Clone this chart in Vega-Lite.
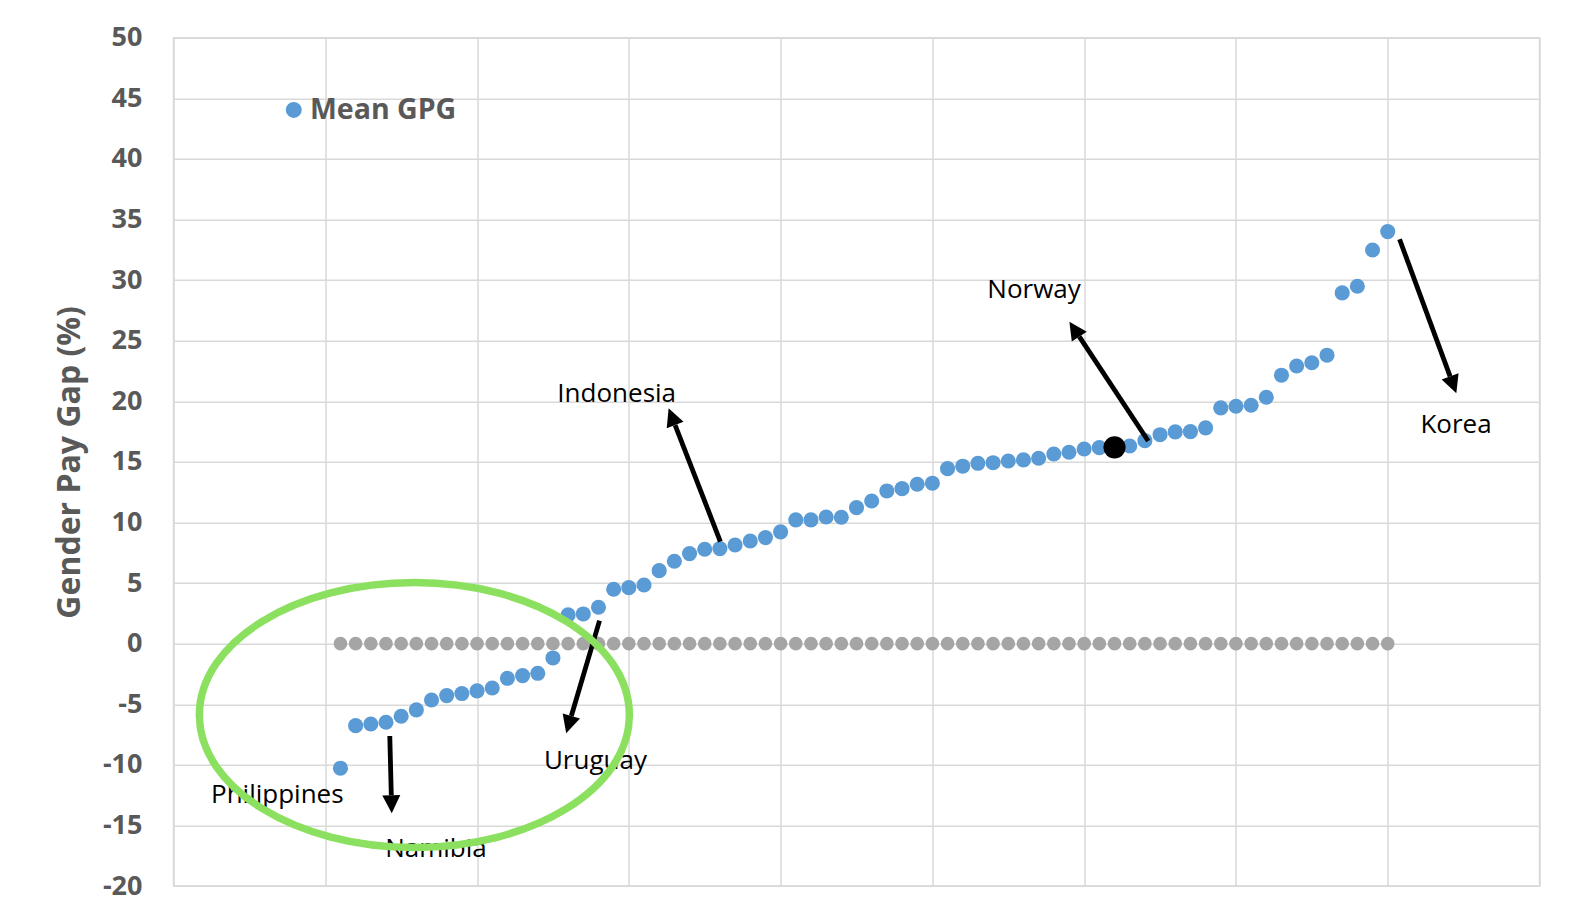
{
  "$schema": "https://vega.github.io/schema/vega-lite/v6.json",
  "autosize": "none",
  "width": 1366,
  "height": 848.3,
  "padding": {"left": 173.5, "top": 37.7, "right": 36.5, "bottom": 27},
  "background": "white",
  "config": {
    "font": "Open Sans",
    "view": {"stroke": "#D9D9D9", "strokeWidth": 1.5},
    "axis": {"gridColor": "#D9D9D9", "gridWidth": 1.5, "domain": false, "ticks": false}
  },
  "datasets": {
    "gpg": [
      {"x": 11, "y": -10.28}, {"x": 12, "y": -6.77}, {"x": 13, "y": -6.63}, {"x": 14, "y": -6.49},
      {"x": 15, "y": -5.99}, {"x": 16, "y": -5.47}, {"x": 17, "y": -4.65}, {"x": 18, "y": -4.29},
      {"x": 19, "y": -4.12}, {"x": 20, "y": -3.90}, {"x": 21, "y": -3.66}, {"x": 22, "y": -2.86},
      {"x": 23, "y": -2.64}, {"x": 24, "y": -2.45}, {"x": 25, "y": -1.18}, {"x": 26, "y": 2.37},
      {"x": 27, "y": 2.45}, {"x": 28, "y": 3.00}, {"x": 29, "y": 4.49}, {"x": 30, "y": 4.62},
      {"x": 31, "y": 4.84}, {"x": 32, "y": 6.02}, {"x": 33, "y": 6.80}, {"x": 34, "y": 7.43},
      {"x": 35, "y": 7.79}, {"x": 36, "y": 7.84}, {"x": 37, "y": 8.14}, {"x": 38, "y": 8.47},
      {"x": 39, "y": 8.75}, {"x": 40, "y": 9.22}, {"x": 41, "y": 10.21}, {"x": 42, "y": 10.21},
      {"x": 43, "y": 10.45}, {"x": 44, "y": 10.43}, {"x": 45, "y": 11.22}, {"x": 46, "y": 11.77},
      {"x": 47, "y": 12.60}, {"x": 48, "y": 12.79}, {"x": 49, "y": 13.15}, {"x": 50, "y": 13.24},
      {"x": 51, "y": 14.44}, {"x": 52, "y": 14.64}, {"x": 53, "y": 14.88}, {"x": 54, "y": 14.93},
      {"x": 55, "y": 15.07}, {"x": 56, "y": 15.16}, {"x": 57, "y": 15.30}, {"x": 58, "y": 15.65},
      {"x": 59, "y": 15.79}, {"x": 60, "y": 16.06}, {"x": 61, "y": 16.17}, {"x": 62, "y": 16.20},
      {"x": 63, "y": 16.31}, {"x": 64, "y": 16.75}, {"x": 65, "y": 17.24}, {"x": 66, "y": 17.47},
      {"x": 67, "y": 17.49}, {"x": 68, "y": 17.80}, {"x": 69, "y": 19.45}, {"x": 70, "y": 19.59},
      {"x": 71, "y": 19.67}, {"x": 72, "y": 20.33}, {"x": 73, "y": 22.15}, {"x": 74, "y": 22.91},
      {"x": 75, "y": 23.18}, {"x": 76, "y": 23.80}, {"x": 77, "y": 28.94}, {"x": 78, "y": 29.49},
      {"x": 79, "y": 32.48}, {"x": 80, "y": 34.00}
    ],
    "labels": [
      {"label": "Indonesia", "x": 29.2, "y": 19.9},
      {"label": "Norway", "x": 56.7, "y": 28.5},
      {"label": "Korea", "x": 84.5, "y": 17.36},
      {"label": "Philippines", "x": 6.84, "y": -13.17},
      {"label": "Uruguay", "x": 27.8, "y": -10.34},
      {"label": "Namibia", "x": 17.29, "y": -17.57}
    ],
    "arrows": [
      {"x": 14.25, "y": -7.62, "x2": 14.35, "y2": -12.51},
      {"x": 28.07, "y": 1.90, "x2": 26.21, "y2": -5.97},
      {"x": 36.03, "y": 8.42, "x2": 33.05, "y2": 18.04},
      {"x": 64.22, "y": 16.72, "x2": 59.68, "y2": 25.33},
      {"x": 80.78, "y": 33.37, "x2": 84.11, "y2": 22.05}
    ],
    "highlight": [
      {"x": 15.87, "y": -5.89}
    ]
  },
  "encoding": {
    "x": {
      "field": "x", "type": "quantitative",
      "scale": {"domain": [0, 90], "nice": false, "zero": false},
      "axis": {"title": null, "values": [0, 10, 20, 30, 40, 50, 60, 70, 80, 90], "labels": false, "grid": true}
    },
    "y": {
      "field": "y", "type": "quantitative",
      "scale": {"domain": [-20, 50], "nice": false, "zero": false},
      "axis": {
        "title": "Gender Pay Gap (%)",
        "values": [-20, -15, -10, -5, 0, 5, 10, 15, 20, 25, 30, 35, 40, 45, 50],
        "labelExpr": "'' + datum.value",
        "labelFont": "Open Sans", "labelFontWeight": "bold", "labelFontSize": 27, "labelColor": "#595959",
        "labelPadding": 31.5, "labelFlush": false, "labelOverlap": false,
        "titleFont": "Open Sans", "titleFontWeight": "bold", "titleFontSize": 32, "titleColor": "#595959",
        "titlePadding": 16, "grid": true
      }
    }
  },
  "layer": [
    {
      "data": {"name": "gpg"},
      "mark": {"type": "point", "filled": true, "size": 185, "color": "#A5A5A5", "opacity": 1, "strokeWidth": 0},
      "encoding": {"y": {"datum": 0}}
    },
    {
      "data": {"name": "gpg"},
      "mark": {"type": "point", "filled": true, "size": 228, "opacity": 1, "strokeWidth": 0},
      "encoding": {
        "color": {
          "datum": "Mean GPG", "type": "nominal",
          "scale": {"domain": ["Mean GPG"], "range": ["#5B9BD5"]},
          "legend": {
            "title": null, "orient": "none", "legendX": 106, "legendY": 58, "padding": 0,
            "symbolType": "circle", "symbolSize": 254, "symbolOpacity": 1, "symbolStrokeWidth": 0,
            "labelFont": "Open Sans", "labelFontSize": 28.5, "labelFontWeight": "bold",
            "labelColor": "#595959", "labelOffset": 2
          }
        }
      }
    },
    {
      "data": {"name": "gpg"},
      "transform": [{"filter": "datum.x === 62"}],
      "mark": {"type": "point", "filled": true, "size": 490, "color": "black", "opacity": 1, "strokeWidth": 0}
    },
    {
      "data": {"name": "arrows"},
      "mark": {"type": "rule", "color": "black", "strokeWidth": 4.8, "strokeCap": "butt"},
      "encoding": {"x2": {"field": "x2"}, "y2": {"field": "y2"}}
    },
    {
      "data": {"name": "arrows"},
      "transform": [
        {"calculate": "atan2((datum.x2 - datum.x) * 15.178, (datum.y2 - datum.y) * 12.119) * 180 / PI", "as": "heading"}
      ],
      "mark": {"type": "point", "shape": "M0,-1L-0.5,0L0.5,0Z", "size": 1296, "filled": true, "color": "black", "opacity": 1, "strokeWidth": 0},
      "encoding": {
        "x": {"field": "x2", "type": "quantitative"},
        "y": {"field": "y2", "type": "quantitative"},
        "angle": {"field": "heading", "type": "quantitative", "scale": null}
      }
    },
    {
      "data": {"name": "labels"},
      "mark": {"type": "text", "font": "Open Sans", "fontSize": 26, "color": "black", "align": "center", "baseline": "alphabetic"},
      "encoding": {"text": {"field": "label"}}
    },
    {
      "data": {"name": "highlight"},
      "mark": {
        "type": "point",
        "shape": "M1,0C1,0.3402 0.5523,0.616 0,0.616C-0.5523,0.616 -1,0.3402 -1,0C-1,-0.3402 -0.5523,-0.616 0,-0.616C0.5523,-0.616 1,-0.3402 1,0Z",
        "size": 184900, "filled": false, "stroke": "#8CE05F", "strokeWidth": 7.5, "opacity": 1
      }
    }
  ]
}
